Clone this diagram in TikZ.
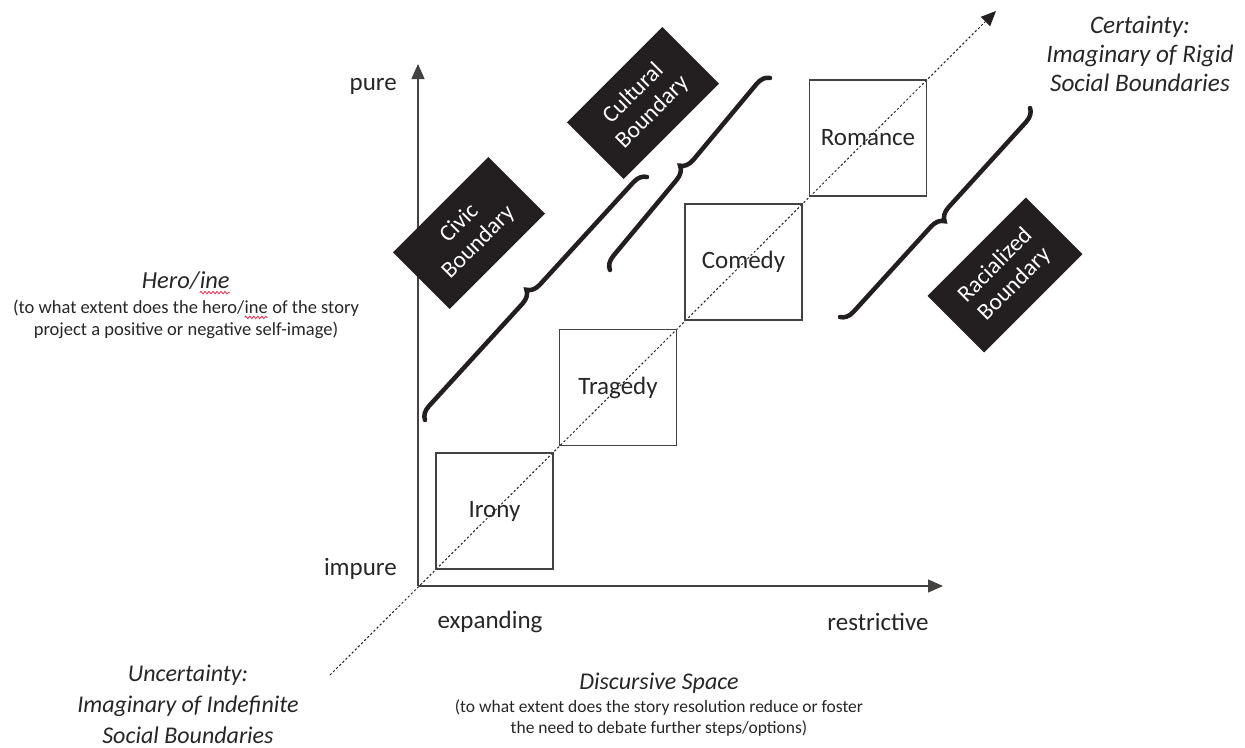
\documentclass[tikz,border=0pt]{standalone}
\usepackage{fontspec}
\setmainfont{Carlito}
\usetikzlibrary{arrows.meta,decorations.pathreplacing,decorations.pathmorphing}
\definecolor{ink}{HTML}{231F20}
\definecolor{txt}{HTML}{262626}
\definecolor{spell}{HTML}{E0284F}
\begin{document}
\begin{tikzpicture}[x=1pt,y=-1pt,
  axis/.style={line width=1.4pt, draw=ink!85, -{Triangle[length=15pt,width=13pt]}},
  diag/.style={line width=1pt, draw=ink, dash pattern=on 2.2pt off 2.2pt, -{Triangle[length=15pt,width=13pt]}},
  stage/.style={draw=ink!85, line width=1.3pt, minimum width=117pt, minimum height=116pt, inner sep=0pt, font=\fontsize{25}{30}\selectfont, text=txt},
  bnd/.style={fill=ink, text=white, rotate=45, minimum width=135pt, minimum height=80pt, inner sep=0pt, align=center, font=\fontsize{23.5}{27}\selectfont},
  curly/.style={decorate, decoration={brace, amplitude=13pt}, line width=4.5pt, draw=ink, line cap=round},
  lab/.style={text=txt, font=\fontsize{25}{30}\selectfont, inner sep=0pt},
  ttl/.style={text=txt, align=center, inner sep=0pt, font=\fontsize{24.5}{30}\itshape\selectfont},
  sub/.style={text=txt, align=center, inner sep=0pt, font=\fontsize{18.5}{22.5}\selectfont},
  squig/.style={draw=spell, line width=0.8pt, decorate, decoration={snake, amplitude=1.2pt, segment length=4pt}},
]
\newcommand\sperr[1]{\tikz[baseline=(w.base)]{\node[inner sep=0pt, outer sep=0pt] (w) {#1};
  \draw[squig] ([yshift=-4pt]w.base west) -- ([yshift=-4pt]w.base east);}}
\useasboundingbox (0,0) rectangle (1245,747);

% diagonal
\coordinate (dlo) at (330,675);
\coordinate (dhi) at (996,11);
\draw[diag] (dlo) -- (dhi);

% axes
\coordinate (O) at (418,586);
\coordinate (ytip) at (418,64);
\coordinate (xtip) at (943,586);
\draw[axis] (O) -- (ytip);
\draw[axis] (O) -- (xtip);

\node[lab, anchor=east] (pure) at (397,86) {pure};
\node[lab, anchor=east] (impure) at (397,569) {impure};
\node[lab] (expanding) at (490,622) {expanding};
\node[lab] (restrictive) at (878,622) {restrictive};

% stages
\node[stage] (irony) at (494.5,511) {Irony};
\node[stage] (tragedy) at (618,387.5) {Tragedy};
\node[stage] (comedy) at (743.5,262) {Comedy};
\node[stage] (romance) at (868,138) {Romance};

% boundaries
\node[bnd] (civic) at (469,233) {Civic\\Boundary};
\node[bnd] (cultural) at (643,103) {Cultural\\Boundary};
\node[bnd, minimum width=139pt] (racial) at (1005,275) {Racialized\\Boundary};

% braces
\coordinate (b1a) at (425,420); \coordinate (b1b) at (647,177);
\coordinate (b2a) at (610,270); \coordinate (b2b) at (770,78);
\coordinate (b3a) at (1030,108); \coordinate (b3b) at (840,317);
\draw[curly] (b1a) -- (b1b);
\draw[curly] (b2a) -- (b2b);
\draw[curly] (b3a) -- (b3b);

% side texts
\node[ttl] (hero) at (186,283) {Hero/\sperr{ine}};
\node[sub] (herosub) at (186,319.5) {(to what extent does the hero/\sperr{ine} of the story\\project a positive or negative self-image)};

\node[ttl, font=\fontsize{25.2}{29}\itshape\selectfont] (certainty) at (1140,54) {Certainty:\\Imaginary of Rigid\\Social Boundaries};
\node[ttl, font=\fontsize{24}{31}\itshape\selectfont] (uncertainty) at (188,704) {Uncertainty:\\Imaginary of Indefinite\\Social Boundaries};
\node[ttl, font=\fontsize{24}{30}\itshape\selectfont] (disc) at (659,683) {Discursive Space};
\node[sub, font=\fontsize{17.5}{20.5}\selectfont] (discsub) at (659,718) {(to what extent does the story resolution reduce or foster\\the need to debate further steps/options)};
\end{tikzpicture}
\end{document}
